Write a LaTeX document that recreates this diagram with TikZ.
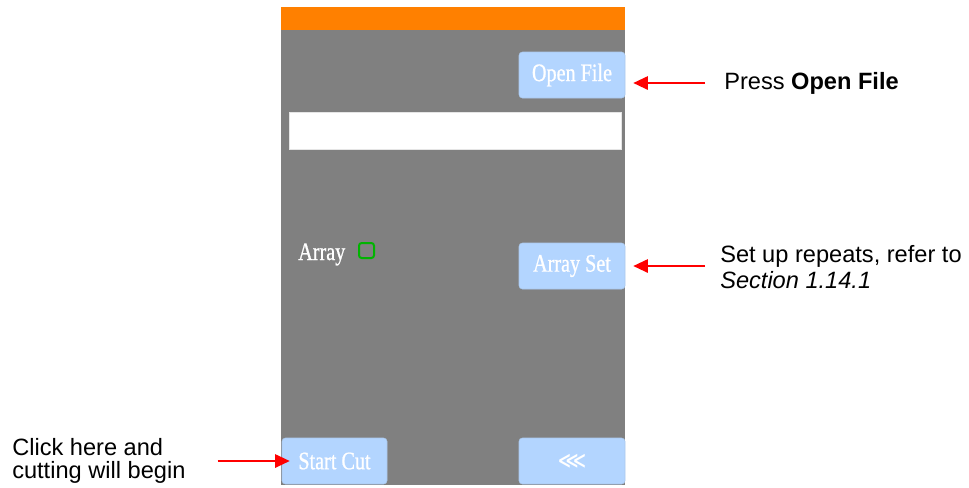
\documentclass[tikz,border=0pt]{standalone}
\usepackage{fontspec}
\setmainfont{Liberation Sans}
\newfontfamily\panelfont[FakeStretch=0.8, FakeBold=0.8]{Liberation Serif}
\newfontfamily\symfont{DejaVu Sans}
\usepackage{tikz}
\usetikzlibrary{arrows.meta,calc,positioning}

\definecolor{barorange}{HTML}{FF8000}
\definecolor{panelgray}{HTML}{808080}
\definecolor{btnblue}{HTML}{B3D5FF}
\definecolor{chkgreen}{HTML}{00B400}
\definecolor{pointred}{HTML}{FF0000}

\begin{document}
\begin{tikzpicture}[
    x=0.75pt, y=-0.75pt,
    btn/.style={fill=btnblue, draw=btnblue!85!gray, line width=0.4pt, rounded corners=2.5pt,
        minimum width=79.5pt, minimum height=34.5pt, inner sep=0pt,
        font=\panelfont\fontsize{18.9}{20}\selectfont, text=white},
    note/.style={inner sep=0pt, font=\fontsize{17.7}{17.3}\selectfont, text=black},
    callout/.style={draw=pointred, line width=1.5pt, -{Triangle[length=11pt, width=10pt]}}
]
    \useasboundingbox (0,0) rectangle (969,487);

    % --- Bildschirm ---
    \fill[barorange] (281,7) rectangle (625,30);
    \fill[panelgray] (281,30) rectangle (625,485);

    % Dateiname-Feld
    \draw[fill=white, draw=gray!20, line width=0.6pt] (289,112) rectangle (621,149);

    % Tasten
    \node[btn] (openbtn) at (572,75) {Open File};
    \node[btn] (arraysetbtn) at (572,266) {Array Set};
    \node[btn, minimum width=78.75pt] (startbtn) at (334.5,461) {Start Cut};
    \node[btn, font=\symfont\bfseries\fontsize{15}{16}\selectfont] (backbtn) at (572,461) {⋘};

    % Array-Option
    \node[anchor=base west, inner sep=0pt, font=\panelfont\fontsize{18.9}{20}\selectfont, text=white] (arraylbl) at (298,260) {Array};
    \node[draw=chkgreen, line width=1.5pt, rounded corners=2pt, minimum size=11.25pt, inner sep=0pt] (arraybox) at (366.5,250.5) {};

    % --- Hinweise ---
    \node[note, anchor=west] (noteopen) at (724,83) {Press \textbf{Open File}};
    \node[note, anchor=north west, align=left, font=\fontsize{17.7}{19.5}\selectfont] (notearray) at (720,245) {Set up repeats, refer to\\\textit{Section 1.14.1}};
    \node[note, anchor=north west, align=left] (notestart) at (12,438) {Click here and\\cutting will begin};

    % Pfeile
    \draw[callout] ([xshift=-14.25pt]noteopen.west) -- ([xshift=6pt]openbtn.east |- noteopen.west);
    \draw[callout] ([xshift=-11.25pt]notearray.west |- arraysetbtn.east) -- ([xshift=6pt]arraysetbtn.east);
    \draw[callout] ([xshift=-48pt]startbtn.west) -- ([xshift=6pt]startbtn.west);

\end{tikzpicture}
\end{document}
